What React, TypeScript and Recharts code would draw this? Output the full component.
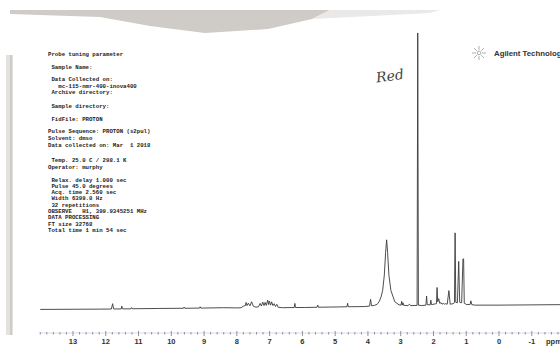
import React from "react";
import { LineChart, Line, XAxis, YAxis } from "recharts";

// spectrum: chemical shift (ppm) and height above the trace floor
const shifts = [
  14.0, 12.2, 11.83, 11.79, 11.76, 11.53, 11.51, 11.49, 11.23, 11.21, 11.19, 10.4,
  9.63, 9.61, 9.59, 9.14, 9.12, 9.1, 8.4, 8.0, 7.87, 7.8, 7.74, 7.72, 7.69, 7.65,
  7.6, 7.55, 7.5, 7.42, 7.34, 7.29, 7.25, 7.21, 7.17, 7.14, 7.1, 7.06, 7.03, 7.01,
  6.97, 6.94, 6.9, 6.86, 6.82, 6.78, 6.74, 6.6, 6.25, 6.23, 6.21, 5.9, 5.55, 5.53,
  5.51, 5.1, 4.64, 4.62, 4.6, 4.1, 3.95, 3.92, 3.89, 3.8, 3.72, 3.66, 3.6, 3.55,
  3.5, 3.46, 3.43, 3.4, 3.36, 3.3, 3.18, 3.05, 2.99, 2.97, 2.95, 2.93, 2.91, 2.78,
  2.73, 2.7, 2.5, 2.48, 2.46, 2.36, 2.23, 2.21, 2.19, 2.1, 2.08, 2.06, 1.99, 1.91,
  1.89, 1.87, 1.84, 1.81, 1.77, 1.74, 1.7, 1.67, 1.64, 1.58, 1.53, 1.49, 1.4, 1.36,
  1.34, 1.32, 1.27, 1.23, 1.2, 1.14, 1.1, 1.08, 1.06, 0.98, 0.88, 0.86, 0.83, 0.73,
  0.0, -1.86,
];
const heights = [
  9, 9.3, 9.4, 15, 9.5, 9.5, 12.5, 9.6, 9.6, 11, 9.7, 10,
  10.2, 11.5, 10.2, 10.4, 11.8, 10.4, 10.8, 10.6, 10.7, 12.5, 13, 16.3, 13, 15.5,
  12.8, 17, 12.5, 11.3, 11.8, 15.3, 12.5, 16.7, 13, 16.3, 13.2, 18.7, 14, 17.8,
  13.5, 17, 13, 15, 12, 14.3, 11.2, 10.8, 11, 15.3, 11, 11, 11.3, 13.5,
  11.3, 11.5, 11.8, 15.5, 11.8, 12, 12.5, 19.5, 12.8, 13.3, 14.3, 17, 22, 29,
  45, 69, 82, 69, 45, 29, 17, 13.8, 13.5, 17.5, 13.5, 16, 13.3, 13,
  14.5, 13, 13.2, 299, 13.5, 13, 13.5, 23, 14, 13.8, 18.7, 14, 14.5, 15,
  32, 17, 20.3, 15.5, 16, 14.5, 15.3, 14.5, 15, 14.5, 28.7, 14.5, 15, 16,
  89.3, 16.5, 16, 59.3, 16.5, 16, 62, 62, 15.5, 14, 14.3, 18, 14, 13.5,
  13.5, 14,
];

const axisLabels = [13, 12, 11, 10, 9, 8, 7, 6, 5, 4, 3, 2, 1, 0, -1];

const headerLines = [
  "Probe tuning parameter",
  " Sample Name:",
  " Data Collected on:",
  "   mc-115-nmr-400-inova400",
  " Archive directory:",
  " Sample directory:",
  " FidFile: PROTON",
  "Pulse Sequence: PROTON (s2pul)",
  "Solvent: dmso",
  "Data collected on: Mar  1 2018",
  " Temp. 25.0 C / 298.1 K",
  "Operator: murphy",
  " Relax. delay 1.000 sec",
  " Pulse 45.0 degrees",
  " Acq. time 2.560 sec",
  " Width 6399.0 Hz",
  " 32 repetitions",
  "OBSERVE   H1, 399.9345251 MHz",
  "DATA PROCESSING",
  "FT size 32768",
  "Total time 1 min 54 sec",
];
const headerRows = [
  54, 66.7, 79.3, 86, 92.3, 106, 119, 130.7, 137.7, 144.7, 160, 166.7, 179.7,
  185.7, 192, 198, 205, 211, 217.3, 223.7, 230,
];

const data = shifts.map((ppm, i) => ({ ppm, v: heights[i] }));

// minor ticks every 0.2 ppm across the printed scale
const tickValues: number[] = [];
for (let i = -9; i <= 70; i++) tickValues.push(Math.round(i * 2) / 10);

const AXIS_Y = 333;

const PpmTick = (props: any) => {
  const { x, payload } = props;
  const val = payload.value;
  const major = axisLabels.includes(val);
  return (
    <g>
      <line
        x1={x}
        x2={x}
        y1={major ? AXIS_Y - 2 : AXIS_Y - 1}
        y2={major ? AXIS_Y + 3 : AXIS_Y + 1.5}
        stroke="#6f7690"
        strokeWidth={0.8}
      />
      {major && (
        <text
          x={x}
          y={AXIS_Y + 10.5}
          textAnchor="middle"
          fontFamily="Liberation Sans, Arial, sans-serif"
          fontWeight="bold"
          fontSize={7.5}
          fill="#333"
        >
          {val}
        </text>
      )}
    </g>
  );
};

const star = [0, 45, 90, 135, 180, 225, 270, 315];

const App: React.FC = () => {
  return (
    <div
      style={{
        position: "absolute",
        left: 0,
        top: 0,
        width: 560,
        height: 346,
        background: "#fff",
        overflow: "hidden",
      }}
    >
      <LineChart
        width={560}
        height={346}
        data={data}
        margin={{ top: 32, right: 0, left: 40, bottom: 14 }}
      >
        {/* scanner shadow along the top and the left page edge */}
        <path
          d="M10,10 L330,10 L312,19 L268,29 L205,33 L150,26 L100,17 L10,14 Z"
          fill="#cfcbc6"
        />
        <path d="M330,10 L440,10 L430,13 L312,19 Z" fill="#ebe9e7" />
        <rect x={6} y={55} width={7} height={280} fill="#e4e2df" />
        <line x1={11} x2={11} y1={55} y2={335} stroke="#b9b6b2" strokeWidth={1} />

        <XAxis
          dataKey="ppm"
          type="number"
          domain={[-1.861, 14.007]}
          reversed
          allowDataOverflow
          ticks={tickValues}
          interval={0}
          tickSize={0}
          tickMargin={0}
          tickLine={false}
          axisLine={false}
          tick={<PpmTick />}
          height={14}
        />
        <YAxis type="number" domain={[0, 300]} hide allowDataOverflow />
        <Line
          type="linear"
          dataKey="v"
          stroke="#3a3a3a"
          strokeWidth={0.9}
          dot={false}
          isAnimationActive={false}
        />

        <line x1={40} x2={560} y1={AXIS_Y} y2={AXIS_Y} stroke="#c4c7d4" strokeWidth={0.6} />
        <text
          x={546}
          y={AXIS_Y + 10.5}
          fontFamily="Liberation Sans, Arial, sans-serif"
          fontWeight="bold"
          fontSize={7.5}
          fill="#333"
        >
          ppm
        </text>

        {headerLines.map((line, i) => (
          <text
            key={i}
            x={48}
            y={headerRows[i] + 2}
            fontFamily="Liberation Mono, Courier New, monospace"
            fontWeight="bold"
            fontSize={5.7}
            fill="#222"
            style={{ whiteSpace: "pre" }}
          >
            {line}
          </text>
        ))}

        <text
          x={376}
          y={81}
          fontFamily="DejaVu Serif, serif"
          fontStyle="italic"
          fontSize={14}
          fill="#444"
          transform="rotate(-8 388 76)"
        >
          Red
        </text>

        <g stroke="#9a9a9a" strokeWidth={0.8}>
          {star.map((a) => (
            <line
              key={a}
              x1={479 + 3 * Math.cos((a * Math.PI) / 180)}
              y1={53 + 3 * Math.sin((a * Math.PI) / 180)}
              x2={479 + 7 * Math.cos((a * Math.PI) / 180)}
              y2={53 + 7 * Math.sin((a * Math.PI) / 180)}
            />
          ))}
          <circle cx={479} cy={53} r={1.8} fill="none" />
        </g>
        <text
          x={494}
          y={55.7}
          fontFamily="Liberation Sans, Arial, sans-serif"
          fontWeight="bold"
          fontSize={7.8}
          fill="#333"
        >
          Agilent Technologies
        </text>
      </LineChart>
    </div>
  );
};

export default App;
